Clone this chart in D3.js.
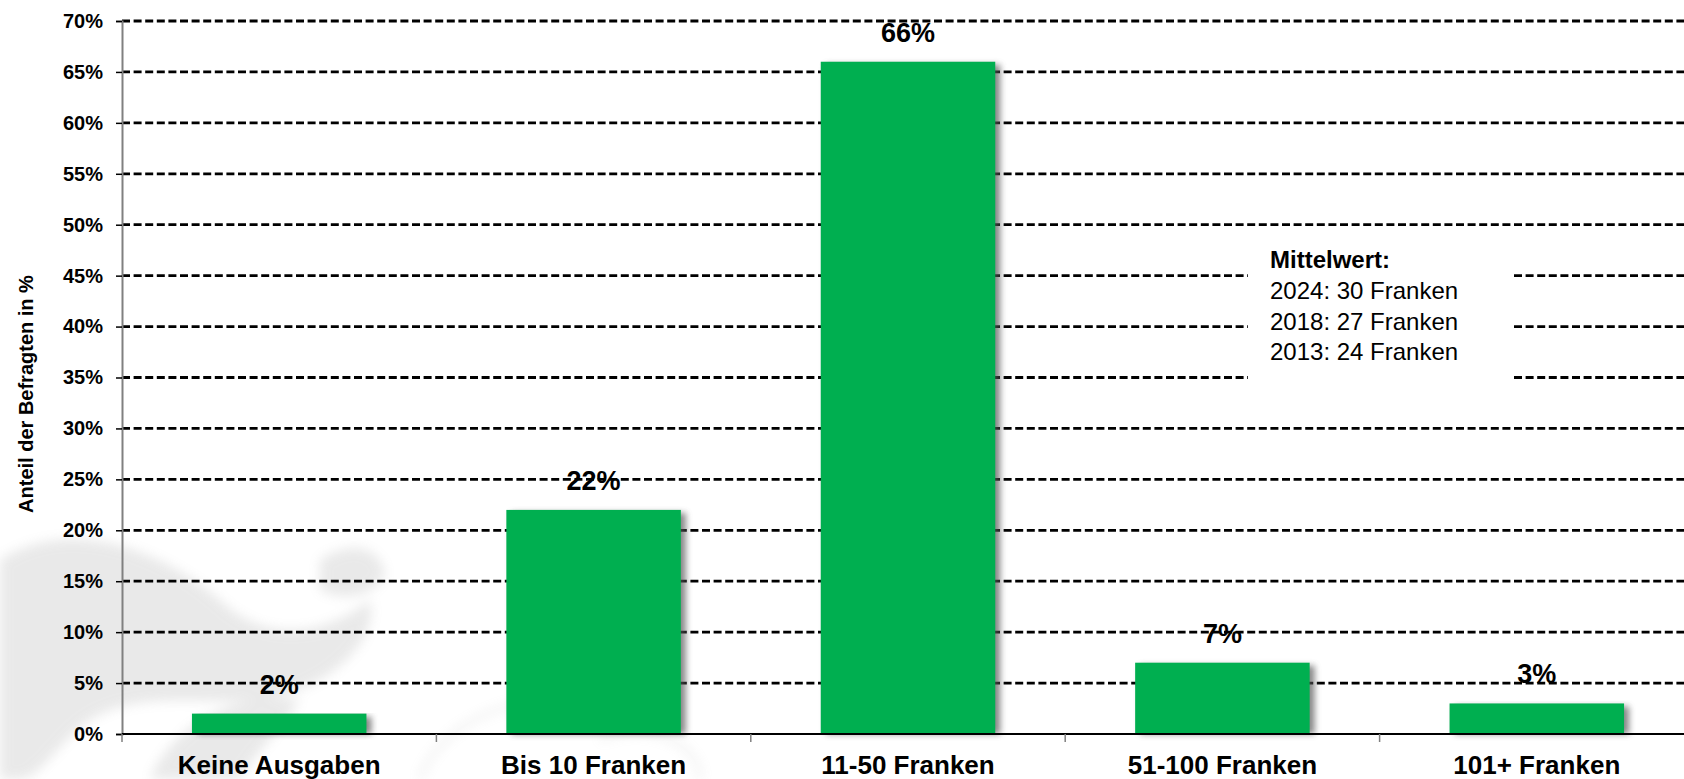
<!DOCTYPE html>
<html>
<head>
<meta charset="utf-8">
<script src="https://cdn.jsdelivr.net/npm/d3@7"></script>
<style>
  body { margin: 0; background: #fff; }
  svg { display: block; font-family: "Liberation Sans", Arial, sans-serif; }
</style>
</head>
<body>
<svg width="1684" height="779"></svg>
<script>
// data
var categories = ["Keine Ausgaben", "Bis 10 Franken", "11-50 Franken", "51-100 Franken", "101+ Franken"];
var values = [2, 22, 66, 7, 3];
var yTicks = [0, 5, 10, 15, 20, 25, 30, 35, 40, 45, 50, 55, 60, 65, 70];
var legendTitle = "Mittelwert:";
var legendLines = ["2024: 30 Franken", "2018: 27 Franken", "2013: 24 Franken"];

var svg = d3.select("svg"),
    margin = {top: 21, right: -10, bottom: 45, left: 122},
    width = svg.attr("width") - margin.left - margin.right,
    height = svg.attr("height") - margin.top - margin.bottom;

// faint background drawing (watermark)
var defs = svg.append("defs");
defs.append("filter").attr("id", "blur")
  .append("feGaussianBlur").attr("stdDeviation", 6);
defs.append("filter").attr("id", "shadow")
  .attr("x", "-20%").attr("y", "-20%").attr("width", "150%").attr("height", "150%")
  .append("feGaussianBlur").attr("stdDeviation", 3);

var wm = svg.append("g").attr("filter", "url(#blur)").attr("fill", "#888").attr("opacity", 0.18);
wm.append("path").attr("d", "M0,560 C60,520 150,540 220,600 C260,640 320,640 370,600 C380,640 330,690 260,700 C200,705 140,690 90,720 C60,740 40,779 20,779 L0,779 Z");
wm.append("path").attr("d", "M150,779 C170,730 230,690 300,700 C280,730 250,760 240,779 Z");
wm.append("path").attr("d", "M320,560 C350,540 380,545 385,575 C370,600 340,600 320,590 Z");
svg.append("g").attr("filter", "url(#blur)").attr("fill", "none").attr("stroke", "#999")
  .attr("stroke-width", 4).attr("opacity", 0.18)
  .append("path").attr("d", "M420,779 C440,720 520,690 600,700 M700,779 C700,740 640,720 600,740");

var g = svg.append("g")
    .attr("transform", "translate(" + margin.left + "," + margin.top + ")");

var x = d3.scaleBand().domain(categories).range([0, width]).padding(0),
    y = d3.scaleLinear().domain([0, 70]).range([height, 0]);

var barWidth = x.bandwidth() * 0.555;

// dashed gridlines
g.selectAll(".grid")
  .data(yTicks.filter(function(d) { return d > 0; }))
  .enter().append("line")
    .attr("class", "grid")
    .attr("x1", 0)
    .attr("x2", width)
    .attr("y1", function(d) { return y(d); })
    .attr("y2", function(d) { return y(d); })
    .attr("stroke", "#000")
    .attr("stroke-width", 2.8)
    .attr("stroke-dasharray", "8,3.6");

// legend box hides the gridlines behind it
var legend = svg.append("g");
legend.append("rect")
  .attr("x", 1248).attr("y", 238)
  .attr("width", 264).attr("height", 152)
  .attr("fill", "#fff");
legend.append("text")
  .attr("x", 1270).attr("y", 268)
  .style("font-size", "24px").style("font-weight", "bold")
  .text(legendTitle);
legend.selectAll(".leg")
  .data(legendLines)
  .enter().append("text")
    .attr("x", 1270)
    .attr("y", function(d, i) { return 299 + i * 30.5; })
    .style("font-size", "24px")
    .text(function(d) { return d; });

// bar shadows
g.selectAll(".shadow")
  .data(values)
  .enter().append("rect")
    .attr("x", function(d, i) { return x(categories[i]) + (x.bandwidth() - barWidth) / 2 + 5; })
    .attr("y", function(d) { return y(d) + 3; })
    .attr("width", barWidth)
    .attr("height", function(d) { return height - y(d) - 3; })
    .attr("fill", "#555")
    .attr("opacity", 0.7)
    .attr("filter", "url(#shadow)");

// bars
g.selectAll(".bar")
  .data(values)
  .enter().append("rect")
    .attr("class", "bar")
    .attr("x", function(d, i) { return x(categories[i]) + (x.bandwidth() - barWidth) / 2; })
    .attr("y", function(d) { return y(d); })
    .attr("width", barWidth)
    .attr("height", function(d) { return height - y(d); })
    .attr("fill", "#00AF50");

// value labels
g.selectAll(".val")
  .data(values)
  .enter().append("text")
    .attr("x", function(d, i) { return x(categories[i]) + x.bandwidth() / 2; })
    .attr("y", function(d) { return y(d) - 20; })
    .attr("text-anchor", "middle")
    .style("font-size", "27px")
    .style("font-weight", "bold")
    .text(function(d) { return d + "%"; });

// y axis
var yAxis = g.append("g")
    .call(d3.axisLeft(y).tickValues(yTicks).tickSize(6).tickPadding(13)
      .tickFormat(function(d) { return d + "%"; }));
yAxis.select(".domain").attr("stroke", "#808080").attr("stroke-width", 2);
yAxis.selectAll(".tick line").attr("stroke", "#000").attr("stroke-width", 1.5);
yAxis.selectAll("text")
    .style("font-size", "20px")
    .style("font-weight", "bold")
    .attr("fill", "#000")
    .style("font-family", "'Liberation Sans', Arial, sans-serif");

// x axis, ticks at category boundaries
g.append("line")
  .attr("x1", 0).attr("x2", width)
  .attr("y1", height).attr("y2", height)
  .attr("stroke", "#000").attr("stroke-width", 2);
g.selectAll(".xtick")
  .data(categories)
  .enter().append("line")
    .attr("x1", function(d) { return x(d); })
    .attr("x2", function(d) { return x(d); })
    .attr("y1", height)
    .attr("y2", height + 8)
    .attr("stroke", "#808080")
    .attr("stroke-width", 1.5);
g.selectAll(".xlab")
  .data(categories)
  .enter().append("text")
    .attr("x", function(d) { return x(d) + x.bandwidth() / 2; })
    .attr("y", height + 40)
    .attr("text-anchor", "middle")
    .style("font-size", "26px")
    .style("font-weight", "bold")
    .text(function(d) { return d; });

// y axis title
svg.append("text")
  .attr("transform", "translate(33," + 394 + ") rotate(-90)")
  .attr("text-anchor", "middle")
  .style("font-size", "20px")
  .style("font-weight", "bold")
  .text("Anteil der Befragten in %");
</script>
</body>
</html>
